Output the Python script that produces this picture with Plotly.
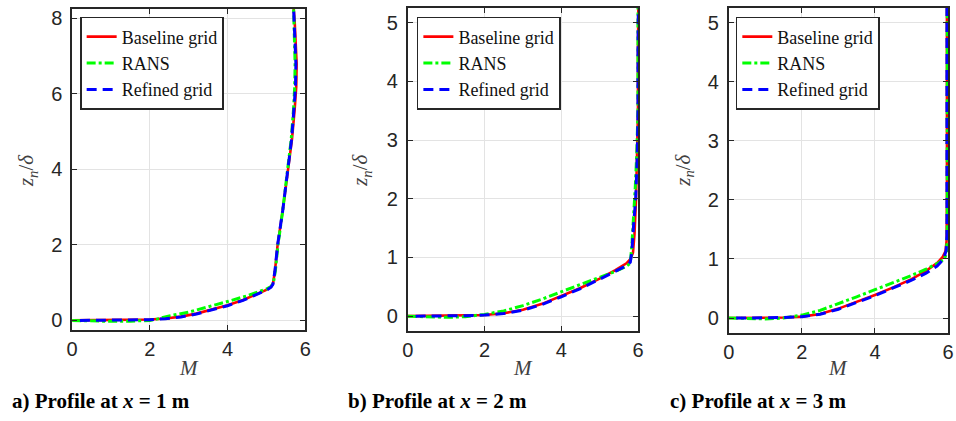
import plotly.graph_objects as go

W, H = 956, 421

# ---------------- data ----------------
# Panel a) x = 1 m
a_base_M = [0, 0.5, 1.0, 1.5, 2.0, 2.4, 2.8, 3.2, 3.6, 4.0, 4.4, 4.8, 5.0, 5.12, 5.17, 5.22, 5.29, 5.42, 5.55, 5.66, 5.73, 5.77, 5.78, 5.76, 5.73, 5.70]
a_base_z = [0, 0.005, 0.01, 0.015, 0.025, 0.05, 0.10, 0.18, 0.28, 0.40, 0.54, 0.71, 0.81, 0.89, 0.97, 1.3, 2.0, 2.9, 3.9, 4.8, 5.6, 6.2, 6.8, 7.4, 7.9, 8.3]
a_rans_M = [0, 0.5, 1.0, 1.5, 2.0, 2.2, 2.5, 3.0, 3.5, 4.0, 4.5, 4.8, 5.0, 5.12, 5.18, 5.23, 5.30, 5.42, 5.54, 5.64, 5.70, 5.73, 5.74, 5.73, 5.72, 5.70]
a_rans_z = [0, -0.02, -0.025, -0.02, 0.0, 0.04, 0.12, 0.22, 0.35, 0.50, 0.65, 0.75, 0.83, 0.90, 0.98, 1.3, 2.0, 2.9, 3.9, 4.8, 5.6, 6.2, 6.8, 7.4, 7.9, 8.3]
a_ref_M = [0.2, 0.5, 1.0, 1.5, 2.0, 2.4, 2.8, 3.2, 3.6, 4.0, 4.4, 4.8, 5.0, 5.12, 5.17, 5.22, 5.29, 5.42, 5.55, 5.65, 5.71, 5.75, 5.76, 5.74, 5.72, 5.70]
a_ref_z = [0, 0.0, 0.005, 0.01, 0.02, 0.045, 0.09, 0.17, 0.27, 0.39, 0.53, 0.70, 0.80, 0.88, 0.96, 1.3, 2.0, 2.9, 3.9, 4.8, 5.6, 6.2, 6.8, 7.4, 7.9, 8.3]

# Panel b) x = 2 m
b_base_M = [0, 0.5, 1.0, 1.5, 2.0, 2.5, 3.0, 3.5, 4.0, 4.5, 5.0, 5.4, 5.7, 5.8, 5.87, 5.91, 5.95, 5.98, 6.0, 6.0, 6.01]
b_base_z = [0, 0.002, 0.005, 0.01, 0.02, 0.05, 0.11, 0.21, 0.34, 0.48, 0.64, 0.78, 0.90, 0.97, 1.08, 1.4, 2.0, 2.7, 3.5, 4.5, 5.3]
b_rans_M = [0, 0.5, 1.0, 1.5, 2.0, 2.5, 3.0, 3.5, 4.0, 4.5, 5.0, 5.4, 5.7, 5.8, 5.84, 5.88, 5.93, 5.97, 6.0, 6.0, 6.0]
b_rans_z = [0, -0.015, -0.02, -0.01, 0.03, 0.09, 0.18, 0.29, 0.42, 0.54, 0.66, 0.76, 0.85, 0.90, 1.2, 1.6, 2.2, 2.8, 3.5, 4.5, 5.3]
b_ref_M = [0.2, 0.5, 1.0, 1.5, 2.0, 2.5, 3.0, 3.5, 4.0, 4.5, 5.0, 5.4, 5.7, 5.8, 5.84, 5.88, 5.94, 5.98, 6.0, 6.0, 6.01]
b_ref_z = [0, 0.0, 0.004, 0.008, 0.018, 0.045, 0.10, 0.20, 0.33, 0.47, 0.63, 0.76, 0.86, 0.92, 1.1, 1.5, 2.0, 2.7, 3.5, 4.5, 5.3]

# Panel c) x = 3 m
c_base_M = [0, 0.5, 1.0, 1.5, 2.0, 2.5, 3.0, 3.5, 4.0, 4.5, 5.0, 5.4, 5.7, 5.85, 5.93, 5.96, 5.97, 5.97, 5.97]
c_base_z = [0, 0.002, 0.005, 0.01, 0.025, 0.07, 0.16, 0.27, 0.39, 0.52, 0.66, 0.80, 0.93, 1.03, 1.13, 1.3, 2.0, 3.5, 5.3]
c_rans_M = [0, 0.5, 1.0, 1.5, 2.0, 2.5, 3.0, 3.5, 4.0, 4.5, 5.0, 5.4, 5.7, 5.9, 5.96, 5.98, 5.98, 5.98, 5.98]
c_rans_z = [0, -0.01, -0.015, 0.0, 0.05, 0.13, 0.24, 0.36, 0.48, 0.60, 0.72, 0.83, 0.92, 1.0, 1.1, 1.5, 2.0, 3.5, 5.3]
c_ref_M = [0.2, 0.5, 1.0, 1.5, 2.0, 2.5, 3.0, 3.5, 4.0, 4.5, 5.0, 5.4, 5.7, 5.88, 5.95, 5.97, 5.97, 5.97, 5.97]
c_ref_z = [0, 0.0, 0.004, 0.009, 0.022, 0.065, 0.15, 0.26, 0.38, 0.51, 0.64, 0.76, 0.88, 1.0, 1.15, 1.4, 2.0, 3.5, 5.3]

series_names = ["Baseline grid", "RANS", "Refined grid"]
captions = ["a) Profile at <i>x</i> = 1 m", "b) Profile at <i>x</i> = 2 m", "c) Profile at <i>x</i> = 3 m"]
y_ranges = [[-0.25, 8.25], [-0.25, 5.25], [-0.25, 5.25]]
y_dticks = [2, 1, 1]

panels = [
    [(a_base_M, a_base_z), (a_rans_M, a_rans_z), (a_ref_M, a_ref_z)],
    [(b_base_M, b_base_z), (b_rans_M, b_rans_z), (b_ref_M, b_ref_z)],
    [(c_base_M, c_base_z), (c_rans_M, c_rans_z), (c_ref_M, c_ref_z)],
]

# ---------------- layout geometry (pixels) ----------------
boxes = [(67, 303, 7, 331), (407, 640, 6, 332), (732, 954, 6, 334)]  # x0, x1, ytop, ybottom
legend_pos = [(75, 15), (416, 15), (739, 15)]
ylabel_x = [22, 360, 687]
caption_x = [4, 344, 670]

styles = [
    dict(color="#ff0000", width=2.6, dash="solid"),
    dict(color="#00ff00", width=3, dash="9px,3px,3px,3px"),
    dict(color="#0000ff", width=3, dash="10px,6px"),
]

fig = go.Figure()
axis_font = dict(family="Liberation Sans, Arial, sans-serif", size=20, color="#262626")
legend_names = ["legend", "legend2", "legend3"]

layout = dict(
    width=W, height=H, margin=dict(l=0, r=0, t=0, b=0),
    paper_bgcolor="white", plot_bgcolor="white", showlegend=True,
)
annotations = []

for i, (x0, x1, yt, yb) in enumerate(boxes):
    xa = "x" if i == 0 else f"x{i+1}"
    ya = "y" if i == 0 else f"y{i+1}"
    for j, (Ms, zs) in enumerate(panels[i]):
        st = styles[j]
        fig.add_trace(go.Scatter(
            x=Ms, y=zs, mode="lines", name=series_names[j],
            line=dict(color=st["color"], width=st["width"], dash=st["dash"]),
            xaxis=xa, yaxis=ya, legend=legend_names[i], showlegend=True,
        ))
    common = dict(
        showline=True, linecolor="#262626", linewidth=1.8, mirror="ticks",
        ticks="inside", ticklen=5, tickwidth=1.2, tickcolor="#262626",
        showgrid=True, gridcolor="#e3e3e3", gridwidth=1.2, zeroline=False,
        tickfont=axis_font,
    )
    layout["xaxis" if i == 0 else f"xaxis{i+1}"] = dict(
        domain=[x0 / W, x1 / W], range=[0, 6], dtick=2, tick0=0,
        anchor=ya, ticklabelstandoff=0, **common)
    layout["yaxis" if i == 0 else f"yaxis{i+1}"] = dict(
        domain=[1 - yb / H, 1 - yt / H], range=y_ranges[i], dtick=y_dticks[i], tick0=0,
        anchor=xa, ticklabelstandoff=4, **common)
    lx, ly = legend_pos[i]
    layout[legend_names[i]] = dict(
        x=lx / W, y=1 - ly / H, xanchor="left", yanchor="top",
        bgcolor="white", bordercolor="#262626", borderwidth=1.6,
        font=dict(family="Liberation Serif, Times New Roman, serif", size=18, color="#111"),
        itemwidth=30, tracegroupgap=0,
    )
    # axis labels
    annotations.append(dict(
        text="<i>M</i>", x=(x0 + x1) / 2 / W, y=1 - 370 / H, xref="paper", yref="paper",
        showarrow=False, xanchor="center", yanchor="middle",
        font=dict(family="Liberation Serif, Times New Roman, serif", size=21, color="#404040"),
    ))
    annotations.append(dict(
        text="<i>z<sub>n</sub></i>/<i>δ</i>", x=ylabel_x[i] / W, y=1 - 170 / H,
        xref="paper", yref="paper", showarrow=False, textangle=-90,
        xanchor="center", yanchor="middle",
        font=dict(family="Liberation Serif, Times New Roman, serif", size=21, color="#404040"),
    ))
    annotations.append(dict(
        text="<b>" + captions[i] + "</b>", x=caption_x[i] / W, y=1 - 403 / H,
        xref="paper", yref="paper", showarrow=False, xanchor="left", yanchor="middle",
        font=dict(family="Liberation Serif, Times New Roman, serif", size=21, color="black"),
    ))

layout["annotations"] = annotations
fig.update_layout(**layout)
fig.write_html("out.html")
